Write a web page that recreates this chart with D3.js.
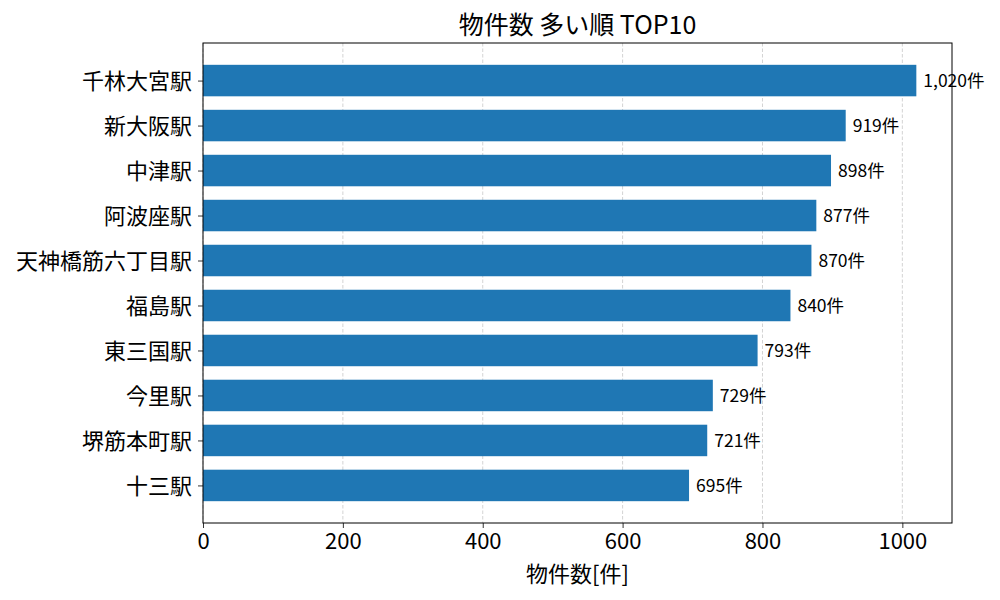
<!DOCTYPE html>
<html>
<head>
<meta charset="utf-8">
<script src="https://cdn.jsdelivr.net/npm/d3@7"></script>
<style>
  body { margin: 0; background: #fff; }
  svg { font-family: "Noto Sans CJK JP", "Noto Sans", sans-serif; }
</style>
</head>
<body>
<div id="chart"></div>
<script>
// data
const stations = ['千林大宮駅', '新大阪駅', '中津駅', '阿波座駅', '天神橋筋六丁目駅',
  '福島駅', '東三国駅', '今里駅', '堺筋本町駅', '十三駅'];
const counts = [1020, 919, 898, 877, 870, 840, 793, 729, 721, 695];
const xTicks = [0, 200, 400, 600, 800, 1000];

const width = 1000, height = 600;
const margin = { top: 43, right: 48, bottom: 77, left: 203 };
const innerW = width - margin.left - margin.right;
const innerH = height - margin.top - margin.bottom;

const svg = d3.select('#chart').append('svg')
  .attr('width', width)
  .attr('height', height);

const g = svg.append('g')
  .attr('transform', `translate(${margin.left},${margin.top})`);

// x scale like matplotlib autoscale (5% margin)
const x = d3.scaleLinear()
  .domain([0, d3.max(counts) * 1.05])
  .range([0, innerW]);

// y: index positions, bar height 0.7, margin 0.05
const n = stations.length;
const lo = -0.35, hi = n - 1 + 0.35, pad = (hi - lo) * 0.05;
const y = d3.scaleLinear()
  .domain([lo - pad, hi + pad])
  .range([0, innerH]);

// grid
g.selectAll('.grid')
  .data(xTicks)
  .enter()
  .append('line')
  .attr('x1', d => x(d))
  .attr('x2', d => x(d))
  .attr('y1', 0)
  .attr('y2', innerH)
  .attr('stroke', '#b0b0b0')
  .attr('stroke-opacity', 0.7)
  .attr('stroke-width', 0.8)
  .attr('stroke-dasharray', '3.5,2');

// bars
g.selectAll('.bar')
  .data(counts)
  .enter()
  .append('rect')
  .attr('x', 0)
  .attr('y', (d, i) => y(i - 0.35))
  .attr('width', d => x(d))
  .attr('height', y(0.35) - y(-0.35))
  .attr('fill', '#1f77b4');

// value labels
g.selectAll('.val')
  .data(counts)
  .enter()
  .append('text')
  .attr('x', d => x(d) + 7)
  .attr('y', (d, i) => y(i))
  .attr('dy', '0.35em')
  .attr('font-size', 17.5)
  .attr('fill', '#000')
  .text(d => d3.format(',')(d) + '件');

// axes
const xAxis = g.append('g')
  .attr('transform', `translate(0,${innerH})`)
  .call(d3.axisBottom(x).tickValues(xTicks).tickSize(5).tickPadding(5).tickFormat(d3.format('d')));
xAxis.selectAll('text').attr('font-size', 22).attr('fill', '#000');

const yAxis = g.append('g')
  .call(d3.axisLeft(y).tickValues(d3.range(n)).tickSize(5).tickPadding(6)
    .tickFormat(i => stations[i]));
yAxis.selectAll('text').attr('font-size', 22).attr('fill', '#000').attr('dy', '0.36em');

[xAxis, yAxis].forEach(a => {
  a.select('.domain').remove();
  a.selectAll('line').attr('stroke', '#000').attr('stroke-width', 0.8);
  a.attr('font-family', null);
});

// frame
g.append('rect')
  .attr('width', innerW)
  .attr('height', innerH)
  .attr('fill', 'none')
  .attr('stroke', '#000')
  .attr('stroke-width', 1);

// title and label
svg.append('text')
  .attr('x', margin.left + innerW / 2)
  .attr('y', 34)
  .attr('text-anchor', 'middle')
  .attr('font-size', 25)
  .text('物件数 多い順 TOP10');

svg.append('text')
  .attr('x', margin.left + innerW / 2)
  .attr('y', 582)
  .attr('text-anchor', 'middle')
  .attr('font-size', 22)
  .text('物件数[件]');
</script>
</body>
</html>
